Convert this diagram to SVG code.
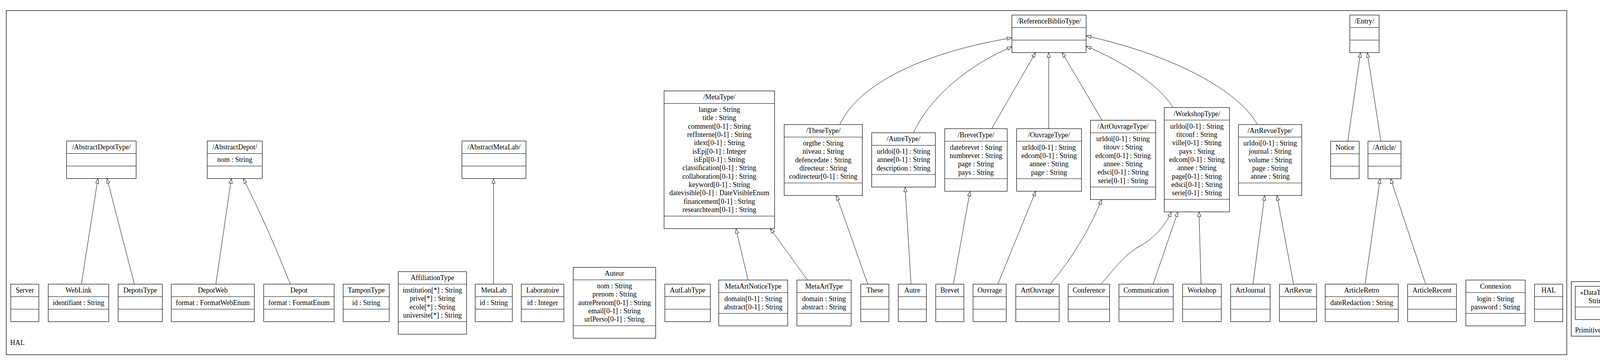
<svg xmlns="http://www.w3.org/2000/svg" width="4443" height="923" viewBox="0 0 4443 923">
<style>
text{font-family:"Liberation Serif","Times New Roman",serif;font-size:18px;fill:#000}
.c{text-anchor:middle}
.box{fill:#fff;stroke:#000;stroke-width:1.2}
.sep{stroke:#000;stroke-width:1}
.frame{fill:none;stroke:#000;stroke-width:1.3}
.edge{fill:none;stroke:#000;stroke-width:1;marker-end:url(#gen)}
</style>
<defs>
<marker id="gen" markerWidth="16" markerHeight="12" refX="13" refY="5" orient="auto" markerUnits="userSpaceOnUse"><path d="M1,0.8 L13,5 L1,9.2 Z" fill="#fff" stroke="#000" stroke-width="1"/></marker>
</defs>
<rect width="4443" height="923" fill="#fff"/>
<g id="pkg-HAL"><rect class="frame" x="16" y="27" width="3995" height="880"/><text x="26" y="882">HAL</text></g>
<g id="pkg-PrimitiveTypes"><rect class="frame" x="4022.5" y="720" width="405" height="139.5"/><text x="4032" y="850">PrimitiveTypes</text></g>

<g id="connectors">
<path class="edge" d="M208.4,726.5 L250.6,456.5"/>
<path class="edge" d="M344,726.5 L274,456.5"/>
<path class="edge" d="M552.6,726.5 L592.3,456.5"/>
<path class="edge" d="M743,726.5 Q690,590 622.8,456.5"/>
<path class="edge" d="M1263.5,726.5 L1263.5,456.5"/>
<path class="edge" d="M1915,716 L1884,584.5"/>
<path class="edge" d="M2067,716 L1972,584.5"/>
<path class="edge" d="M2221.5,726.5 L2141.3,499.8"/>
<path class="edge" d="M2332.3,726.5 L2317.2,478.2"/>
<path class="edge" d="M2440.6,726.5 L2483.3,489"/>
<path class="edge" d="M2554.5,726.5 L2651.4,489"/>
<path class="edge" d="M2688.8,726.5 Q2771.7,628.8 2820.4,510.2"/>
<path class="edge" d="M2819,726.5 C2850,690 2880,650 2917,630 S2985,575 2998.3,541.7"/>
<path class="edge" d="M2952,726.5 L3015.3,541.7"/>
<path class="edge" d="M3074.6,726.5 L3069.5,541.7"/>
<path class="edge" d="M3207.5,726.5 L3237.5,499.8"/>
<path class="edge" d="M3311.6,726.5 L3269,499.8"/>
<path class="edge" d="M3494.7,726.5 L3533,457"/>
<path class="edge" d="M3649.7,726.5 L3560,457"/>
<path class="edge" d="M3450.4,361 L3482.8,134.5"/>
<path class="edge" d="M3535,361 L3500.2,134.5"/>
<path class="edge" d="M2150,318.5 C2190,230 2330,140 2590.5,96.7"/>
<path class="edge" d="M2338.6,339.5 C2370,270 2450,180 2590.5,119.3"/>
<path class="edge" d="M2538.7,329 L2651,134.5"/>
<path class="edge" d="M2684.7,329 L2684.7,134.5"/>
<path class="edge" d="M2821.2,307.5 L2719,134.5"/>
<path class="edge" d="M3003,275 C2970,220 2880,160 2780.7,118.3"/>
<path class="edge" d="M3218.9,318.5 C3170,230 3000,140 2780.7,91.7"/>
</g>

<g id="AbstractDepotType"><rect class="box" x="170.5" y="360.5" width="178" height="96"/><line class="sep" x1="170.5" y1="392.5" x2="348.5" y2="392.5"/><line class="sep" x1="170.5" y1="424.5" x2="348.5" y2="424.5"/><text class="c" x="259.5" y="382">/AbstractDepotType/</text></g>
<g id="AbstractDepot"><rect class="box" x="530.5" y="360.5" width="141" height="96"/><line class="sep" x1="530.5" y1="392.5" x2="671.5" y2="392.5"/><line class="sep" x1="530.5" y1="424.5" x2="671.5" y2="424.5"/><text class="c" x="601" y="382">/AbstractDepot/</text><text class="c" x="601" y="414">nom : String</text></g>
<g id="AbstractMetaLab"><rect class="box" x="1182.5" y="360.5" width="164" height="96"/><line class="sep" x1="1182.5" y1="392.5" x2="1346.5" y2="392.5"/><line class="sep" x1="1182.5" y1="424.5" x2="1346.5" y2="424.5"/><text class="c" x="1264.5" y="382">/AbstractMetaLab/</text></g>

<g id="MetaType"><rect class="box" x="1700" y="232.5" width="283" height="352"/><line class="sep" x1="1700" y1="264.5" x2="1983" y2="264.5"/><line class="sep" x1="1700" y1="552.5" x2="1983" y2="552.5"/><text class="c" x="1841.5" y="254">/MetaType/</text>
<text class="c" x="1841.5" y="286">langue : String</text>
<text class="c" x="1841.5" y="307.3">title : String</text>
<text class="c" x="1841.5" y="328.7">comment[0-1] : String</text>
<text class="c" x="1841.5" y="350">refInterne[0-1] : String</text>
<text class="c" x="1841.5" y="371.3">idext[0-1] : String</text>
<text class="c" x="1841.5" y="392.7">isEpj[0-1] : Integer</text>
<text class="c" x="1841.5" y="414">isEpl[0-1] : String</text>
<text class="c" x="1841.5" y="435.3">classification[0-1] : String</text>
<text class="c" x="1841.5" y="456.7">collaboration[0-1] : String</text>
<text class="c" x="1841.5" y="478">keyword[0-1] : String</text>
<text class="c" x="1841.5" y="499.3">datevisible[0-1] : DateVisibleEnum</text>
<text class="c" x="1841.5" y="520.7">financement[0-1] : String</text>
<text class="c" x="1841.5" y="542">researchteam[0-1] : String</text></g>

<g id="TheseType"><rect class="box" x="2007.5" y="318.5" width="200" height="181.3"/><line class="sep" x1="2007.5" y1="350.5" x2="2207.5" y2="350.5"/><line class="sep" x1="2007.5" y1="467.8" x2="2207.5" y2="467.8"/><text class="c" x="2107.5" y="340">/TheseType/</text>
<text class="c" x="2107.5" y="372">orgthe : String</text>
<text class="c" x="2107.5" y="393.3">niveau : String</text>
<text class="c" x="2107.5" y="414.7">defencedate : String</text>
<text class="c" x="2107.5" y="436">directeur : String</text>
<text class="c" x="2107.5" y="457.3">codirecteur[0-1] : String</text></g>

<g id="AutreType"><rect class="box" x="2231.5" y="339.5" width="163" height="138.7"/><line class="sep" x1="2231.5" y1="371.5" x2="2394.5" y2="371.5"/><line class="sep" x1="2231.5" y1="446.2" x2="2394.5" y2="446.2"/><text class="c" x="2313" y="361">/AutreType/</text>
<text class="c" x="2313" y="393">urldoi[0-1] : String</text>
<text class="c" x="2313" y="414.3">annee[0-1] : String</text>
<text class="c" x="2313" y="435.7">description : String</text></g>

<g id="BrevetType"><rect class="box" x="2418.5" y="329" width="160" height="160"/><line class="sep" x1="2418.5" y1="361" x2="2578.5" y2="361"/><line class="sep" x1="2418.5" y1="457" x2="2578.5" y2="457"/><text class="c" x="2498.5" y="350.5">/BrevetType/</text>
<text class="c" x="2498.5" y="382.5">datebrevet : String</text>
<text class="c" x="2498.5" y="403.8">numbrevet : String</text>
<text class="c" x="2498.5" y="425.2">page : String</text>
<text class="c" x="2498.5" y="446.5">pays : String</text></g>

<g id="OuvrageType"><rect class="box" x="2602.5" y="329" width="166" height="160"/><line class="sep" x1="2602.5" y1="361" x2="2768.5" y2="361"/><line class="sep" x1="2602.5" y1="457" x2="2768.5" y2="457"/><text class="c" x="2685.5" y="350.5">/OuvrageType/</text>
<text class="c" x="2685.5" y="382.5">urldoi[0-1] : String</text>
<text class="c" x="2685.5" y="403.8">edcom[0-1] : String</text>
<text class="c" x="2685.5" y="425.2">annee : String</text>
<text class="c" x="2685.5" y="446.5">page : String</text></g>

<g id="ArtOuvrageType"><rect class="box" x="2791.5" y="307.5" width="167" height="202.7"/><line class="sep" x1="2791.5" y1="339.5" x2="2958.5" y2="339.5"/><line class="sep" x1="2791.5" y1="478.2" x2="2958.5" y2="478.2"/><text class="c" x="2875" y="329">/ArtOuvrageType/</text>
<text class="c" x="2875" y="361">urldoi[0-1] : String</text>
<text class="c" x="2875" y="382.3">titouv : String</text>
<text class="c" x="2875" y="403.7">edcom[0-1] : String</text>
<text class="c" x="2875" y="425">annee : String</text>
<text class="c" x="2875" y="446.3">edsci[0-1] : String</text>
<text class="c" x="2875" y="467.7">serie[0-1] : String</text></g>

<g id="WorkshopType"><rect class="box" x="2980.5" y="275" width="167" height="266.7"/><line class="sep" x1="2980.5" y1="307" x2="3147.5" y2="307"/><line class="sep" x1="2980.5" y1="509.7" x2="3147.5" y2="509.7"/><text class="c" x="3064" y="296.5">/WorkshopType/</text>
<text class="c" x="3064" y="328.5">urldoi[0-1] : String</text>
<text class="c" x="3064" y="349.8">titconf : String</text>
<text class="c" x="3064" y="371.2">ville[0-1] : String</text>
<text class="c" x="3064" y="392.5">pays : String</text>
<text class="c" x="3064" y="413.8">edcom[0-1] : String</text>
<text class="c" x="3064" y="435.2">annee : String</text>
<text class="c" x="3064" y="456.5">page[0-1] : String</text>
<text class="c" x="3064" y="477.8">edsci[0-1] : String</text>
<text class="c" x="3064" y="499.2">serie[0-1] : String</text></g>

<g id="ArtRevueType"><rect class="box" x="3170.5" y="318.5" width="162" height="181.3"/><line class="sep" x1="3170.5" y1="350.5" x2="3332.5" y2="350.5"/><line class="sep" x1="3170.5" y1="467.8" x2="3332.5" y2="467.8"/><text class="c" x="3251.5" y="340">/ArtRevueType/</text>
<text class="c" x="3251.5" y="372">urldoi[0-1] : String</text>
<text class="c" x="3251.5" y="393.3">journal : String</text>
<text class="c" x="3251.5" y="414.7">volume : String</text>
<text class="c" x="3251.5" y="436">page : String</text>
<text class="c" x="3251.5" y="457.3">annee : String</text></g>

<g id="ReferenceBiblioType"><rect class="box" x="2590.5" y="38.5" width="190" height="96"/><line class="sep" x1="2590.5" y1="70.5" x2="2780.5" y2="70.5"/><line class="sep" x1="2590.5" y1="102.5" x2="2780.5" y2="102.5"/><text class="c" x="2685.5" y="60">/ReferenceBiblioType/</text></g>
<g id="Entry"><rect class="box" x="3455.5" y="38.5" width="75" height="96"/><line class="sep" x1="3455.5" y1="70.5" x2="3530.5" y2="70.5"/><line class="sep" x1="3455.5" y1="102.5" x2="3530.5" y2="102.5"/><text class="c" x="3493" y="60">/Entry/</text></g>
<g id="Notice"><rect class="box" x="3406.5" y="361" width="73" height="96"/><line class="sep" x1="3406.5" y1="393" x2="3479.5" y2="393"/><line class="sep" x1="3406.5" y1="425" x2="3479.5" y2="425"/><text class="c" x="3443" y="382.5">Notice</text></g>
<g id="Article"><rect class="box" x="3502" y="361" width="84.5" height="96"/><line class="sep" x1="3502" y1="393" x2="3586.5" y2="393"/><line class="sep" x1="3502" y1="425" x2="3586.5" y2="425"/><text class="c" x="3544.2" y="382.5">/Article/</text></g>

<g id="Server"><rect class="box" x="27.5" y="726.5" width="72" height="96"/><line class="sep" x1="27.5" y1="758.5" x2="99.5" y2="758.5"/><line class="sep" x1="27.5" y1="790.5" x2="99.5" y2="790.5"/><text class="c" x="63.5" y="748">Server</text></g>
<g id="WebLink"><rect class="box" x="123.5" y="726.5" width="155" height="96"/><line class="sep" x1="123.5" y1="758.5" x2="278.5" y2="758.5"/><line class="sep" x1="123.5" y1="790.5" x2="278.5" y2="790.5"/><text class="c" x="201" y="748">WebLink</text><text class="c" x="201" y="780">identifiant : String</text></g>
<g id="DepotsType"><rect class="box" x="302.5" y="726.5" width="113" height="96"/><line class="sep" x1="302.5" y1="758.5" x2="415.5" y2="758.5"/><line class="sep" x1="302.5" y1="790.5" x2="415.5" y2="790.5"/><text class="c" x="359" y="748">DepotsType</text></g>
<g id="DepotWeb"><rect class="box" x="438.5" y="726.5" width="212.5" height="96"/><line class="sep" x1="438.5" y1="758.5" x2="651" y2="758.5"/><line class="sep" x1="438.5" y1="790.5" x2="651" y2="790.5"/><text class="c" x="544.7" y="748">DepotWeb</text><text class="c" x="544.7" y="780">format : FormatWebEnum</text></g>
<g id="Depot"><rect class="box" x="675" y="726.5" width="180.5" height="96"/><line class="sep" x1="675" y1="758.5" x2="855.5" y2="758.5"/><line class="sep" x1="675" y1="790.5" x2="855.5" y2="790.5"/><text class="c" x="765.2" y="748">Depot</text><text class="c" x="765.2" y="780">format : FormatEnum</text></g>
<g id="TamponType"><rect class="box" x="878.5" y="726.5" width="118" height="96"/><line class="sep" x1="878.5" y1="758.5" x2="996.5" y2="758.5"/><line class="sep" x1="878.5" y1="790.5" x2="996.5" y2="790.5"/><text class="c" x="937.5" y="748">TamponType</text><text class="c" x="937.5" y="780">id : String</text></g>
<g id="AffiliationType"><rect class="box" x="1019.5" y="694.5" width="175" height="160"/><line class="sep" x1="1019.5" y1="726.5" x2="1194.5" y2="726.5"/><line class="sep" x1="1019.5" y1="822.5" x2="1194.5" y2="822.5"/><text class="c" x="1107" y="716">AffiliationType</text>
<text class="c" x="1107" y="748">institution[*] : String</text>
<text class="c" x="1107" y="769.3">prive[*] : String</text>
<text class="c" x="1107" y="790.7">ecole[*] : String</text>
<text class="c" x="1107" y="812">universite[*] : String</text></g>
<g id="MetaLab"><rect class="box" x="1216.5" y="726.5" width="95" height="96"/><line class="sep" x1="1216.5" y1="758.5" x2="1311.5" y2="758.5"/><line class="sep" x1="1216.5" y1="790.5" x2="1311.5" y2="790.5"/><text class="c" x="1264" y="748">MetaLab</text><text class="c" x="1264" y="780">id : String</text></g>
<g id="Laboratoire"><rect class="box" x="1334.5" y="726.5" width="109" height="96"/><line class="sep" x1="1334.5" y1="758.5" x2="1443.5" y2="758.5"/><line class="sep" x1="1334.5" y1="790.5" x2="1443.5" y2="790.5"/><text class="c" x="1389" y="748">Laboratoire</text><text class="c" x="1389" y="780">id : Integer</text></g>
<g id="Auteur"><rect class="box" x="1467.5" y="683.5" width="211" height="181.3"/><line class="sep" x1="1467.5" y1="715.5" x2="1678.5" y2="715.5"/><line class="sep" x1="1467.5" y1="832.8" x2="1678.5" y2="832.8"/><text class="c" x="1573" y="705">Auteur</text>
<text class="c" x="1573" y="737">nom : String</text>
<text class="c" x="1573" y="758.3">prenom : String</text>
<text class="c" x="1573" y="779.7">autrePrenom[0-1] : String</text>
<text class="c" x="1573" y="801">email[0-1] : String</text>
<text class="c" x="1573" y="822.3">urlPerso[0-1] : String</text></g>
<g id="AutLabType"><rect class="box" x="1702" y="726.5" width="116.5" height="96"/><line class="sep" x1="1702" y1="758.5" x2="1818.5" y2="758.5"/><line class="sep" x1="1702" y1="790.5" x2="1818.5" y2="790.5"/><text class="c" x="1760.2" y="748">AutLabType</text></g>
<g id="MetaArtNoticeType"><rect class="box" x="1840" y="716" width="176.5" height="117.3"/><line class="sep" x1="1840" y1="748" x2="2016.5" y2="748"/><line class="sep" x1="1840" y1="801.3" x2="2016.5" y2="801.3"/><text class="c" x="1928.2" y="737.5">MetaArtNoticeType</text><text class="c" x="1928.2" y="769.5">domain[0-1] : String</text><text class="c" x="1928.2" y="790.8">abstract[0-1] : String</text></g>
<g id="MetaArtType"><rect class="box" x="2040" y="716" width="139" height="117.3"/><line class="sep" x1="2040" y1="748" x2="2179" y2="748"/><line class="sep" x1="2040" y1="801.3" x2="2179" y2="801.3"/><text class="c" x="2109.5" y="737.5">MetaArtType</text><text class="c" x="2109.5" y="769.5">domain : String</text><text class="c" x="2109.5" y="790.8">abstract : String</text></g>
<g id="These"><rect class="box" x="2203.5" y="726.5" width="72" height="96"/><line class="sep" x1="2203.5" y1="758.5" x2="2275.5" y2="758.5"/><line class="sep" x1="2203.5" y1="790.5" x2="2275.5" y2="790.5"/><text class="c" x="2239.5" y="748">These</text></g>
<g id="Autre"><rect class="box" x="2299.5" y="726.5" width="72" height="96"/><line class="sep" x1="2299.5" y1="758.5" x2="2371.5" y2="758.5"/><line class="sep" x1="2299.5" y1="790.5" x2="2371.5" y2="790.5"/><text class="c" x="2335.5" y="748">Autre</text></g>
<g id="Brevet"><rect class="box" x="2395.5" y="726.5" width="72" height="96"/><line class="sep" x1="2395.5" y1="758.5" x2="2467.5" y2="758.5"/><line class="sep" x1="2395.5" y1="790.5" x2="2467.5" y2="790.5"/><text class="c" x="2431.5" y="748">Brevet</text></g>
<g id="Ouvrage"><rect class="box" x="2491" y="726.5" width="85" height="96"/><line class="sep" x1="2491" y1="758.5" x2="2576" y2="758.5"/><line class="sep" x1="2491" y1="790.5" x2="2576" y2="790.5"/><text class="c" x="2533.5" y="748">Ouvrage</text></g>
<g id="ArtOuvrage"><rect class="box" x="2600.5" y="726.5" width="111" height="96"/><line class="sep" x1="2600.5" y1="758.5" x2="2711.5" y2="758.5"/><line class="sep" x1="2600.5" y1="790.5" x2="2711.5" y2="790.5"/><text class="c" x="2656" y="748">ArtOuvrage</text></g>
<g id="Conference"><rect class="box" x="2734.5" y="726.5" width="106" height="96"/><line class="sep" x1="2734.5" y1="758.5" x2="2840.5" y2="758.5"/><line class="sep" x1="2734.5" y1="790.5" x2="2840.5" y2="790.5"/><text class="c" x="2787.5" y="748">Conference</text></g>
<g id="Communication"><rect class="box" x="2864.5" y="726.5" width="139" height="96"/><line class="sep" x1="2864.5" y1="758.5" x2="3003.5" y2="758.5"/><line class="sep" x1="2864.5" y1="790.5" x2="3003.5" y2="790.5"/><text class="c" x="2934" y="748">Communication</text></g>
<g id="Workshop"><rect class="box" x="3027.5" y="726.5" width="99" height="96"/><line class="sep" x1="3027.5" y1="758.5" x2="3126.5" y2="758.5"/><line class="sep" x1="3027.5" y1="790.5" x2="3126.5" y2="790.5"/><text class="c" x="3077" y="748">Workshop</text></g>
<g id="ArtJournal"><rect class="box" x="3150.5" y="726.5" width="101" height="96"/><line class="sep" x1="3150.5" y1="758.5" x2="3251.5" y2="758.5"/><line class="sep" x1="3150.5" y1="790.5" x2="3251.5" y2="790.5"/><text class="c" x="3201" y="748">ArtJournal</text></g>
<g id="ArtRevue"><rect class="box" x="3275.5" y="726.5" width="95" height="96"/><line class="sep" x1="3275.5" y1="758.5" x2="3370.5" y2="758.5"/><line class="sep" x1="3275.5" y1="790.5" x2="3370.5" y2="790.5"/><text class="c" x="3323" y="748">ArtRevue</text></g>
<g id="ArticleRetro"><rect class="box" x="3392.5" y="726.5" width="187" height="96"/><line class="sep" x1="3392.5" y1="758.5" x2="3579.5" y2="758.5"/><line class="sep" x1="3392.5" y1="790.5" x2="3579.5" y2="790.5"/><text class="c" x="3486" y="748">ArticleRetro</text><text class="c" x="3486" y="780">dateRedaction : String</text></g>
<g id="ArticleRecent"><rect class="box" x="3603.5" y="726.5" width="125" height="96"/><line class="sep" x1="3603.5" y1="758.5" x2="3728.5" y2="758.5"/><line class="sep" x1="3603.5" y1="790.5" x2="3728.5" y2="790.5"/><text class="c" x="3666" y="748">ArticleRecent</text></g>
<g id="Connexion"><rect class="box" x="3752.5" y="716" width="152" height="117.3"/><line class="sep" x1="3752.5" y1="748" x2="3904.5" y2="748"/><line class="sep" x1="3752.5" y1="801.3" x2="3904.5" y2="801.3"/><text class="c" x="3828.5" y="737.5">Connexion</text><text class="c" x="3828.5" y="769.5">login : String</text><text class="c" x="3828.5" y="790.8">password : String</text></g>
<g id="HAL"><rect class="box" x="3928.5" y="726.5" width="72" height="96"/><line class="sep" x1="3928.5" y1="758.5" x2="4000.5" y2="758.5"/><line class="sep" x1="3928.5" y1="790.5" x2="4000.5" y2="790.5"/><text class="c" x="3964.5" y="748">HAL</text></g>

<g id="DT-String"><rect class="box" x="4032.5" y="732" width="112" height="85"/><line class="sep" x1="4032.5" y1="785" x2="4144.5" y2="785"/><text class="c" x="4088.5" y="753.5">«DataType»</text><text class="c" x="4088.5" y="774.8">String</text></g>
<g id="DT-Integer"><rect class="box" x="4168.5" y="732" width="112" height="85"/><line class="sep" x1="4168.5" y1="785" x2="4280.5" y2="785"/><text class="c" x="4224.5" y="753.5">«DataType»</text><text class="c" x="4224.5" y="774.8">Integer</text></g>
<g id="DT-Boolean"><rect class="box" x="4304" y="732" width="112.5" height="85"/><line class="sep" x1="4304" y1="785" x2="4416.5" y2="785"/><text class="c" x="4360.2" y="753.5">«DataType»</text><text class="c" x="4360.2" y="774.8">Boolean</text></g>
</svg>
